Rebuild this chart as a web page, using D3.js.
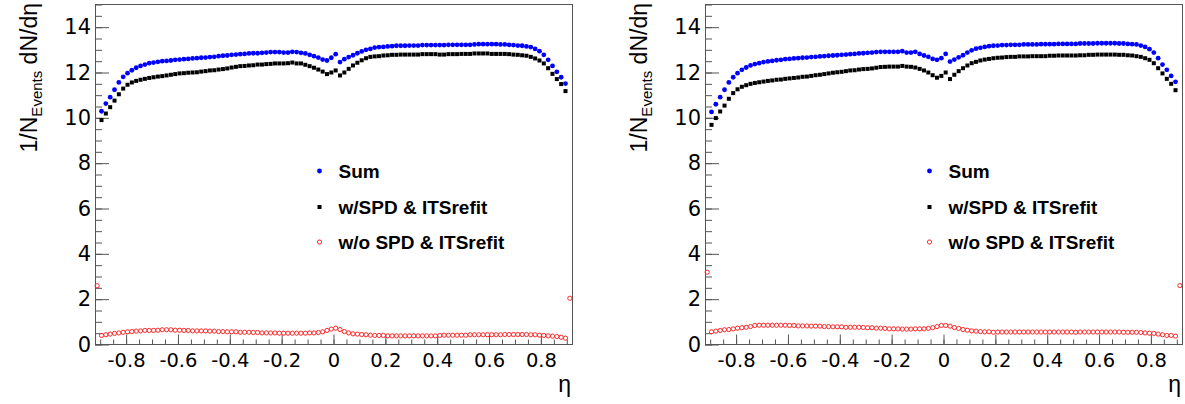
<!DOCTYPE html>
<html>
<head>
<meta charset="utf-8">
<script src="https://cdn.jsdelivr.net/npm/d3@7/dist/d3.min.js"></script>
<style>
  body { margin: 0; background: #fff; }
  svg { display: block; }
  .tick text { font-family: "DejaVu Sans", sans-serif; fill: #000; }
  .leg { font-family: "Liberation Sans", Arial, sans-serif; font-weight: bold; font-size: 19px; }
  .ttl { font-family: "Liberation Sans", Arial, sans-serif; font-size: 23px; }
</style>
</head>
<body>
<svg id="chart" width="1185" height="404"></svg>
<script>
// eta histogram: 110 bins between etaRange[0] and etaRange[1]
var etaRange = [-0.92, 0.92];
var nBins = 110;
var yRange = [0, 15];
var xTickLabels = [-0.8, -0.6, -0.4, -0.2, 0, 0.2, 0.4, 0.6, 0.8];
var yTickLabels = [0, 2, 4, 6, 8, 10, 12, 14];
var legendNames = ['Sum', 'w/SPD & ITSrefit', 'w/o SPD & ITSrefit'];

// left panel
var sumLeft = [
  null, 10.29, 10.63, 10.91, 11.24, 11.56, 11.81, 11.97, 12.10, 12.21,
  12.29, 12.35, 12.41, 12.44, 12.47, 12.50, 12.51, 12.53, 12.56, 12.57,
  12.59, 12.60, 12.62, 12.63, 12.65, 12.66, 12.68, 12.69, 12.72, 12.74,
  12.75, 12.78, 12.79, 12.81, 12.82, 12.84, 12.85, 12.85, 12.87, 12.88,
  12.90, 12.90, 12.90, 12.88, 12.88, 12.91, 12.90, 12.87, 12.84, 12.78,
  12.72, 12.66, 12.57, 12.53, 12.65, 12.81, 12.46, 12.59, 12.68, 12.76,
  12.85, 12.93, 13.00, 13.04, 13.10, 13.12, 13.13, 13.15, 13.16, 13.18,
  13.18, 13.18, 13.19, 13.19, 13.19, 13.21, 13.21, 13.21, 13.21, 13.21,
  13.21, 13.22, 13.22, 13.22, 13.22, 13.22, 13.22, 13.24, 13.25, 13.25,
  13.25, 13.25, 13.25, 13.24, 13.24, 13.22, 13.21, 13.19, 13.18, 13.15,
  13.12, 13.04, 12.94, 12.78, 12.56, 12.29, 12.03, 11.79, 11.51, null
];
var spdLeft = [
  null, 9.90, 10.19, 10.47, 10.76, 11.04, 11.29, 11.46, 11.56, 11.63,
  11.68, 11.72, 11.76, 11.79, 11.82, 11.84, 11.87, 11.90, 11.93, 11.96,
  11.97, 11.99, 12.00, 12.01, 12.04, 12.06, 12.09, 12.10, 12.13, 12.15,
  12.18, 12.22, 12.25, 12.28, 12.29, 12.31, 12.32, 12.35, 12.35, 12.37,
  12.38, 12.40, 12.40, 12.40, 12.41, 12.44, 12.40, 12.40, 12.34, 12.28,
  12.21, 12.13, 12.04, 11.93, 12.00, 12.09, 11.87, 12.00, 12.16, 12.31,
  12.43, 12.54, 12.63, 12.69, 12.71, 12.72, 12.75, 12.76, 12.78, 12.78,
  12.79, 12.79, 12.79, 12.79, 12.79, 12.81, 12.81, 12.81, 12.81, 12.79,
  12.79, 12.81, 12.81, 12.81, 12.82, 12.82, 12.82, 12.84, 12.84, 12.84,
  12.84, 12.82, 12.82, 12.82, 12.82, 12.81, 12.79, 12.78, 12.76, 12.74,
  12.69, 12.62, 12.53, 12.40, 12.19, 11.94, 11.71, 11.49, 11.18, null
];
var noSpdLeft = [
  2.59, 0.40, 0.43, 0.46, 0.49, 0.51, 0.54, 0.56, 0.57, 0.59,
  0.60, 0.62, 0.62, 0.62, 0.63, 0.65, 0.65, 0.65, 0.63, 0.63,
  0.62, 0.62, 0.60, 0.60, 0.60, 0.60, 0.59, 0.59, 0.57, 0.57,
  0.56, 0.56, 0.56, 0.54, 0.54, 0.54, 0.53, 0.53, 0.51, 0.51,
  0.51, 0.51, 0.50, 0.50, 0.50, 0.50, 0.50, 0.50, 0.50, 0.51,
  0.51, 0.53, 0.56, 0.62, 0.68, 0.72, 0.66, 0.57, 0.51, 0.47,
  0.46, 0.44, 0.43, 0.41, 0.40, 0.40, 0.40, 0.38, 0.38, 0.38,
  0.38, 0.38, 0.38, 0.38, 0.38, 0.38, 0.38, 0.38, 0.38, 0.40,
  0.41, 0.41, 0.41, 0.41, 0.41, 0.41, 0.43, 0.43, 0.43, 0.43,
  0.43, 0.43, 0.43, 0.43, 0.44, 0.44, 0.44, 0.44, 0.44, 0.44,
  0.43, 0.43, 0.41, 0.40, 0.38, 0.37, 0.35, 0.32, 0.28, 2.04
];

// right panel
var sumRight = [
  null, 10.26, 10.60, 10.91, 11.24, 11.56, 11.79, 11.97, 12.12, 12.22,
  12.31, 12.37, 12.41, 12.46, 12.49, 12.51, 12.54, 12.56, 12.59, 12.60,
  12.62, 12.63, 12.65, 12.66, 12.68, 12.69, 12.71, 12.72, 12.74, 12.75,
  12.76, 12.78, 12.79, 12.81, 12.82, 12.84, 12.85, 12.87, 12.88, 12.90,
  12.91, 12.91, 12.91, 12.91, 12.91, 12.94, 12.88, 12.88, 12.91, 12.82,
  12.75, 12.69, 12.60, 12.56, 12.63, 12.82, 12.48, 12.57, 12.67, 12.76,
  12.88, 12.98, 13.05, 13.09, 13.13, 13.16, 13.18, 13.19, 13.21, 13.21,
  13.22, 13.22, 13.22, 13.24, 13.24, 13.24, 13.24, 13.25, 13.25, 13.25,
  13.25, 13.26, 13.26, 13.26, 13.26, 13.26, 13.28, 13.28, 13.28, 13.28,
  13.29, 13.29, 13.29, 13.29, 13.29, 13.28, 13.28, 13.26, 13.25, 13.24,
  13.19, 13.13, 13.03, 12.88, 12.63, 12.35, 12.12, 11.85, 11.59, null
];
var spdRight = [
  null, 9.69, 9.99, 10.28, 10.54, 10.84, 11.09, 11.26, 11.37, 11.44,
  11.50, 11.54, 11.57, 11.60, 11.63, 11.65, 11.68, 11.69, 11.72, 11.74,
  11.76, 11.78, 11.81, 11.82, 11.85, 11.88, 11.90, 11.93, 11.96, 11.99,
  12.01, 12.03, 12.06, 12.09, 12.10, 12.13, 12.15, 12.16, 12.18, 12.21,
  12.24, 12.25, 12.26, 12.26, 12.26, 12.29, 12.26, 12.25, 12.22, 12.16,
  12.09, 12.00, 11.88, 11.77, 11.85, 12.00, 11.71, 11.90, 12.06, 12.19,
  12.31, 12.41, 12.47, 12.53, 12.57, 12.60, 12.63, 12.65, 12.66, 12.68,
  12.69, 12.69, 12.71, 12.71, 12.71, 12.72, 12.72, 12.72, 12.72, 12.74,
  12.74, 12.75, 12.75, 12.75, 12.75, 12.75, 12.76, 12.76, 12.78, 12.78,
  12.79, 12.79, 12.79, 12.79, 12.79, 12.78, 12.78, 12.76, 12.75, 12.72,
  12.69, 12.63, 12.56, 12.41, 12.19, 11.96, 11.72, 11.50, 11.22, null
];
var noSpdRight = [
  3.19, 0.56, 0.59, 0.62, 0.65, 0.66, 0.69, 0.72, 0.74, 0.76,
  0.79, 0.84, 0.85, 0.85, 0.85, 0.85, 0.85, 0.85, 0.85, 0.84,
  0.84, 0.82, 0.82, 0.82, 0.81, 0.81, 0.81, 0.79, 0.79, 0.78,
  0.78, 0.78, 0.76, 0.76, 0.76, 0.76, 0.75, 0.74, 0.74, 0.72,
  0.72, 0.71, 0.69, 0.69, 0.69, 0.68, 0.68, 0.68, 0.69, 0.69,
  0.69, 0.71, 0.74, 0.79, 0.84, 0.84, 0.81, 0.75, 0.71, 0.66,
  0.63, 0.60, 0.59, 0.57, 0.56, 0.56, 0.54, 0.55, 0.55, 0.55,
  0.55, 0.55, 0.55, 0.55, 0.55, 0.55, 0.55, 0.55, 0.55, 0.55,
  0.55, 0.55, 0.55, 0.55, 0.55, 0.54, 0.55, 0.55, 0.55, 0.55,
  0.55, 0.55, 0.55, 0.55, 0.55, 0.55, 0.54, 0.54, 0.54, 0.54,
  0.53, 0.51, 0.50, 0.49, 0.46, 0.43, 0.40, 0.40, 0.37, 2.60
];

var binWidth = (etaRange[1] - etaRange[0]) / nBins;
var etaCenters = d3.range(nBins).map(function(i) { return etaRange[0] + (i + 0.5) * binWidth; });

var svg = d3.select('#chart');
var frameCol = '#555';
var redCol = '#ff2a2a';

function drawPanel(x0, x1, sum, spd, noSpd) {
  var top = 4.5, bottom = 344.5;
  var x = d3.scaleLinear().domain(etaRange).range([x0, x1]);
  var y = d3.scaleLinear().domain(yRange).range([bottom, top]);
  var g = svg.append('g');

  // minor ticks
  var xMinor = d3.range(-18, 19).map(function(k) { return k * 0.05; })
    .filter(function(v) { return v >= etaRange[0] && v <= etaRange[1]; });
  var yMinor = d3.range(0, 31).map(function(k) { return k * 0.5; });

  g.append('g').attr('transform', 'translate(0,' + bottom + ')')
    .call(d3.axisBottom(x).tickValues(xMinor).tickSize(-5).tickFormat(''))
    .call(function(s) { s.select('.domain').remove(); s.selectAll('line').attr('stroke', frameCol); });
  g.append('g').attr('transform', 'translate(' + x0 + ',0)')
    .call(d3.axisLeft(y).tickValues(yMinor).tickSize(-7).tickFormat(''))
    .call(function(s) { s.select('.domain').remove(); s.selectAll('line').attr('stroke', frameCol); });

  // major ticks + labels
  var xa = g.append('g').attr('transform', 'translate(0,' + bottom + ')')
    .call(d3.axisBottom(x).tickValues(xTickLabels).tickSize(-10).tickPadding(9)
      .tickFormat(function(d) { return d === 0 ? '0' : d3.format('.1f')(d).replace('\u2212', '-'); }));
  xa.select('.domain').remove();
  xa.selectAll('line').attr('stroke', frameCol);
  xa.selectAll('text').attr('font-size', 19.5);

  var ya = g.append('g').attr('transform', 'translate(' + x0 + ',0)')
    .call(d3.axisLeft(y).tickValues(yTickLabels).tickSize(-14).tickPadding(4));
  ya.select('.domain').remove();
  ya.selectAll('line').attr('stroke', frameCol);
  ya.selectAll('text').attr('font-size', 21);

  // frame
  g.append('rect').attr('x', x0 + 0.5).attr('y', top).attr('width', x1 - x0).attr('height', bottom - top)
    .attr('fill', 'none').attr('stroke', frameCol).attr('stroke-width', 1);

  // axis titles
  var yt = g.append('text').attr('class', 'ttl')
    .attr('transform', 'translate(' + (x0 - 58) + ',3) rotate(-90)')
    .attr('text-anchor', 'end');
  yt.append('tspan').text('1/N');
  yt.append('tspan').attr('font-size', 15).attr('dy', 5).text('Events');
  yt.append('tspan').attr('dy', -5).text(' dN/d\u03b7');

  g.append('text').attr('class', 'ttl').attr('x', x1 - 1).attr('y', 392)
    .attr('text-anchor', 'end').attr('font-size', 24).text('\u03b7');

  // data
  function pts(arr) {
    return arr.map(function(v, i) { return { eta: etaCenters[i], v: v }; })
      .filter(function(d) { return d.v !== null; });
  }

  g.append('g').selectAll('circle').data(pts(noSpd)).enter().append('circle')
    .attr('cx', function(d) { return x(d.eta); })
    .attr('cy', function(d) { return y(d.v); })
    .attr('r', 2.1).attr('fill', 'none').attr('stroke', redCol).attr('stroke-width', 1);

  var sq = 4;
  g.append('g').selectAll('rect').data(pts(spd)).enter().append('rect')
    .attr('x', function(d) { return x(d.eta) - sq / 2; })
    .attr('y', function(d) { return y(d.v) - sq / 2; })
    .attr('width', sq).attr('height', sq).attr('fill', '#000');

  g.append('g').selectAll('circle').data(pts(sum)).enter().append('circle')
    .attr('cx', function(d) { return x(d.eta); })
    .attr('cy', function(d) { return y(d.v); })
    .attr('r', 2.4).attr('fill', '#0000ff');

  // legend
  var lx = x0 + 224.5, rows = [171, 207, 242];
  var leg = g.append('g');
  leg.append('circle').attr('cx', lx).attr('cy', rows[0]).attr('r', 2.4).attr('fill', '#0000ff');
  leg.append('rect').attr('x', lx - sq / 2).attr('y', rows[1] - sq / 2).attr('width', sq).attr('height', sq).attr('fill', '#000');
  leg.append('circle').attr('cx', lx).attr('cy', rows[2]).attr('r', 2.1).attr('fill', 'none')
    .attr('stroke', redCol).attr('stroke-width', 1);
  leg.selectAll('text').data(legendNames).enter().append('text').attr('class', 'leg')
    .attr('x', lx + 19).attr('y', function(d, i) { return rows[i]; }).attr('dy', '0.36em')
    .text(function(d) { return d; });
}

drawPanel(95, 572, sumLeft, spdLeft, noSpdLeft);
drawPanel(705, 1182, sumRight, spdRight, noSpdRight);
</script>
</body>
</html>
